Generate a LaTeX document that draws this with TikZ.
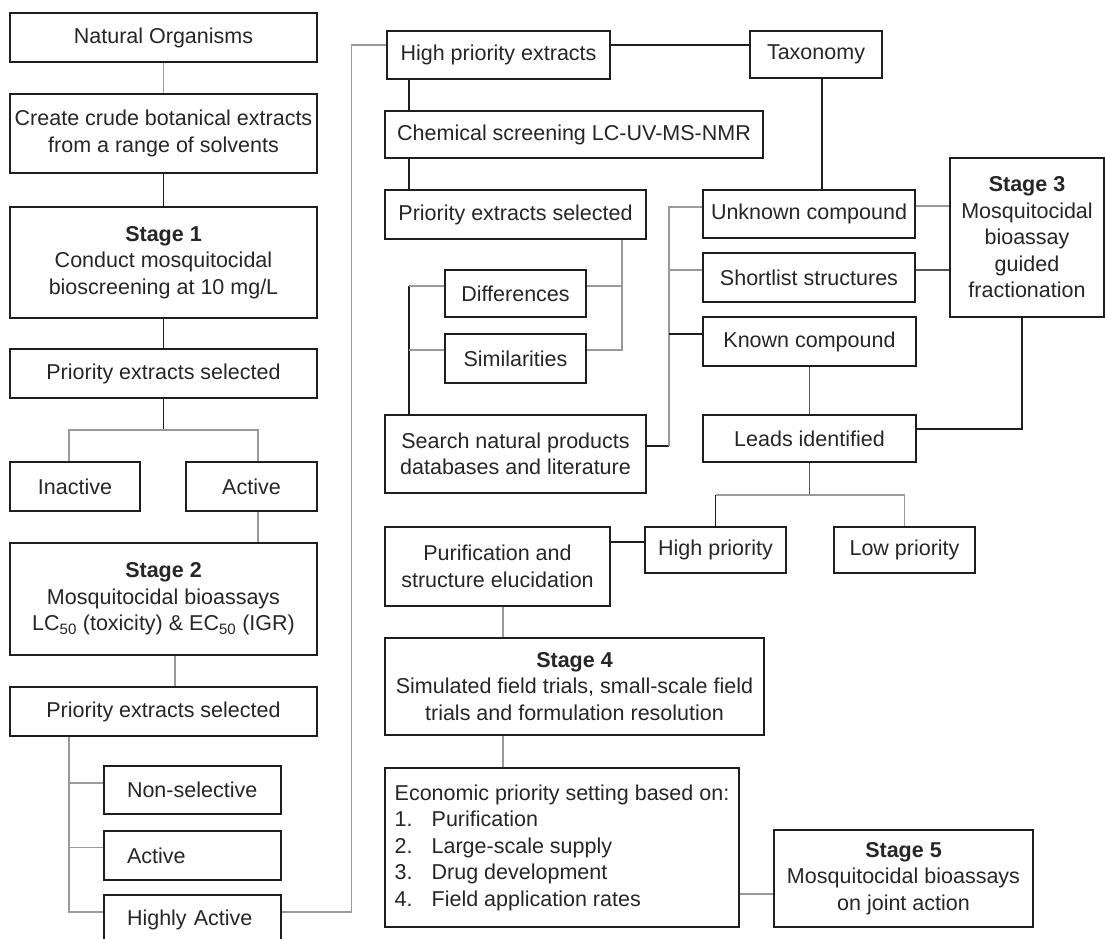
\documentclass[tikz,border=0pt]{standalone}
\usepackage{fontspec}
\setmainfont{Liberation Sans}
\usetikzlibrary{calc}
\definecolor{ink}{HTML}{262626}
\definecolor{lgrey}{HTML}{9A9A9A}
\definecolor{dk}{HTML}{1E1E1E}
\definecolor{mgrey}{HTML}{555555}
\tikzset{
 bx/.style={draw=dk, line width=1.4pt, rectangle, inner sep=0pt, align=center, text=ink, font=\fontsize{21.5}{26.5}\selectfont},
 leaf/.style={bx, text width=131pt, align=left, inner xsep=23pt, minimum height=49pt},
 lk/.style={draw=dk, line width=1.3pt},
 lm/.style={draw=mgrey, line width=1.4pt},
 lg/.style={draw=lgrey, line width=1.6pt},
}
\begin{document}
\begin{tikzpicture}[x=1pt,y=-1pt]
\fill[white] (0,0) rectangle (1105,938);
\useasboundingbox (0,0) rectangle (1105,938);
\clip (0,0) rectangle (1105,938);

% left column
\node[bx, minimum width=307, minimum height=49] (nat) at (163.5,37.5) {Natural Organisms};
\node[bx, minimum width=307, minimum height=79] (crude) at (163.5,133.5) {Create crude botanical extracts\\from a range of solvents};
\node[bx, minimum width=307, minimum height=111] (st1) at (163.5,262.5) {\textbf{Stage 1}\\Conduct mosquitocidal\\bioscreening at 10 mg/L};
\node[bx, minimum width=307, minimum height=49] (pri1) at (163.5,373.5) {Priority extracts selected};
\node[bx, minimum width=130, minimum height=49] (inact) at (75,486.5) {Inactive};
\node[bx, minimum width=131, minimum height=49] (act1) at (251.5,486.5) {Active};
\node[bx, minimum width=307, minimum height=112] (st2) at (163.5,599) {\textbf{Stage 2}\\Mosquitocidal bioassays\\LC\textsubscript{50} (toxicity) \& EC\textsubscript{50} (IGR)};
\node[bx, minimum width=307, minimum height=49] (pri2) at (163.5,711.5) {Priority extracts selected};
\node[leaf, minimum height=48] (nonsel) at (192.5,790) {Non-selective};
\node[leaf] (act2) at (192.5,855.5) {Active};
\node[leaf, minimum height=50] (highact) at (192.5,920) {Highly Active};

% middle column
\node[bx, minimum width=223, minimum height=48] (hpe) at (498.5,55) {High priority extracts};
\node[bx, minimum width=132, minimum height=47] (tax) at (816,54.5) {Taxonomy};
\node[bx, minimum width=378, minimum height=47] (chem) at (574,134.5) {Chemical screening LC-UV-MS-NMR};
\node[bx, minimum width=261, minimum height=49] (pri3) at (515.5,214.5) {Priority extracts selected};
\node[bx, minimum width=141, minimum height=47] (diff) at (515.5,293.5) {Differences};
\node[bx, minimum width=141, minimum height=49] (sim) at (515.5,358.5) {Similarities};
\node[bx, minimum width=261, minimum height=78] (search) at (515.5,454) {Search natural products\\databases and literature};

% right column
\node[bx, minimum width=212, minimum height=48] (unk) at (809,214) {Unknown compound};
\node[bx, minimum width=212, minimum height=49] (short) at (809,277.5) {Shortlist structures};
\node[bx, minimum width=213, minimum height=49] (known) at (809.5,341.5) {Known compound};
\node[bx, minimum width=154, minimum height=159] (st3) at (1027,237.5) {\textbf{Stage 3}\\Mosquitocidal\\bioassay\\guided\\fractionation};
\node[bx, minimum width=213, minimum height=47] (leads) at (809.5,438.5) {Leads identified};
\node[bx, minimum width=141, minimum height=46] (hp) at (715.5,550) {High priority};
\node[bx, minimum width=141, minimum height=46] (lp) at (904.5,550) {Low priority};

% bottom
\node[bx, minimum width=225, minimum height=79] (pur) at (497.5,566.5) {Purification and\\structure elucidation};
\node[bx, minimum width=379, minimum height=97] (st4) at (574.5,686.5) {\textbf{Stage 4}\\Simulated field trials, small-scale field\\trials and formulation resolution};
\node[bx, align=left, minimum width=354, minimum height=159] (econ) at (562,847.5) {Economic priority setting based on:\\
\makebox[37pt][l]{1.}Purification\\
\makebox[37pt][l]{2.}Large-scale supply\\
\makebox[37pt][l]{3.}Drug development\\
\makebox[37pt][l]{4.}Field application rates};
\node[bx, minimum width=259, minimum height=97] (st5) at (903.5,878.5) {\textbf{Stage 5}\\Mosquitocidal bioassays\\on joint action};

% connectors: left column
\draw[lg] (nat) -- (crude);
\draw[lk] (crude) -- (st1);
\draw[lk] (st1) -- (pri1);
\coordinate (j1) at ($(pri1.south)+(0,31)$);
\draw[lk] (pri1.south) -- (j1);
\draw[lg] ([xshift=-6pt]inact.north) |- (j1) -| ([xshift=6.5pt]act1.north);
\coordinate (a1) at ([xshift=6.5pt]act1.south);
\draw[lg] (a1) -- (a1 |- st2.north);
\coordinate (s2) at ([xshift=11.5pt]st2.south);
\draw[lg] (s2) -- (s2 |- pri2.north);
\coordinate (t2) at ([xshift=-94.5pt]pri2.south);
\draw[lg] (t2) |- ([yshift=8pt]highact.west);
\coordinate (n1) at ([yshift=7pt]nonsel.west);
\draw[lg] (n1) -- (n1 -| t2);
\coordinate (n2) at ([yshift=8pt]act2.west);
\draw[lg] (n2) -- (n2 -| t2);

% long link to high priority extracts
\coordinate (h1) at ([yshift=8pt]highact.east);
\coordinate (h2) at ([yshift=10pt]hpe.west);
\draw[lg] (h1) -| ($(h2)+(-35,0)$) -- (h2);
\coordinate (h3) at ([yshift=10pt]hpe.east);
\draw[lk] (h3) -- (h3 -| tax.west);
\coordinate (h4) at ([xshift=-89.5pt]hpe.south);
\draw[lk] (h4) -- (h4 |- chem.north);
\coordinate (p3a) at ([xshift=-106.5pt]pri3.north);
\draw[lk] (p3a) -- (p3a |- chem.south);

% differences / similarities
\coordinate (p3r) at ([xshift=106.5pt]pri3.south);
\coordinate (dR) at ([yshift=7.5pt]diff.east);
\coordinate (smR) at ([yshift=8.5pt]sim.east);
\draw[lg] (p3r) |- (smR);
\draw[lg] (dR) -- (dR -| p3r);
\coordinate (sL) at ([xshift=-106.5pt]search.north);
\coordinate (dL) at ([yshift=7.5pt]diff.west);
\coordinate (smL) at ([yshift=8.5pt]sim.west);
\draw[lk] (sL) -- (sL |- dL);
\draw[lg] (dL) -- (dL -| sL);
\draw[lg] (smL) -- (smL -| sL);

% search to compounds
\coordinate (se) at ([yshift=8pt]search.east);
\coordinate (sx) at ($(se)+(22,0)$);
\draw[lk] (se) -- (sx);
\coordinate (uL) at ([yshift=7pt]unk.west);
\draw[lg] (sx) |- (uL);
\coordinate (shL) at ([yshift=7.5pt]short.west);
\draw[lg] (shL) -- (shL -| sx);
\coordinate (kL) at ([yshift=7.5pt]known.west);
\draw[lk] (kL) -- (kL -| sx);

% taxonomy and stage 3
\coordinate (tx) at ([xshift=6pt]tax.south);
\draw[lk] (tx) -- (tx |- unk.north);
\coordinate (uR) at ([yshift=8pt]unk.east);
\draw[lg] (uR) -- (uR -| st3.west);
\coordinate (shR) at ([yshift=7.5pt]short.east);
\draw[lm] (shR) -- (shR -| st3.west);
\coordinate (s3) at ([xshift=-5pt]st3.south);
\coordinate (lR) at ([yshift=9.5pt]leads.east);
\draw[lk] (s3) |- (lR);
\draw[lm] (known) -- (leads);

% leads to priorities
\coordinate (lj) at ($(leads.south)+(0,32)$);
\draw[lm] (leads.south) -- (lj);
\draw[lk] (hp.north) -- (hp.north |- lj);
\draw[lg] (hp.north |- lj) -- (lp.north |- lj) -- (lp.north);
\coordinate (hpw) at ([yshift=8pt]hp.west);
\draw[lk] (hpw) -- (hpw -| pur.east);

% bottom chain
\coordinate (pu) at ([xshift=5.5pt]pur.south);
\draw[lg] (pu) -- (pu |- st4.north);
\coordinate (ec) at ([xshift=-59pt]econ.north);
\draw[lg] (ec) -- (ec |- st4.south);
\coordinate (s5) at ([yshift=-15.5pt]st5.west);
\draw[lg] (s5) -- (s5 -| econ.east);
\end{tikzpicture}
\end{document}
